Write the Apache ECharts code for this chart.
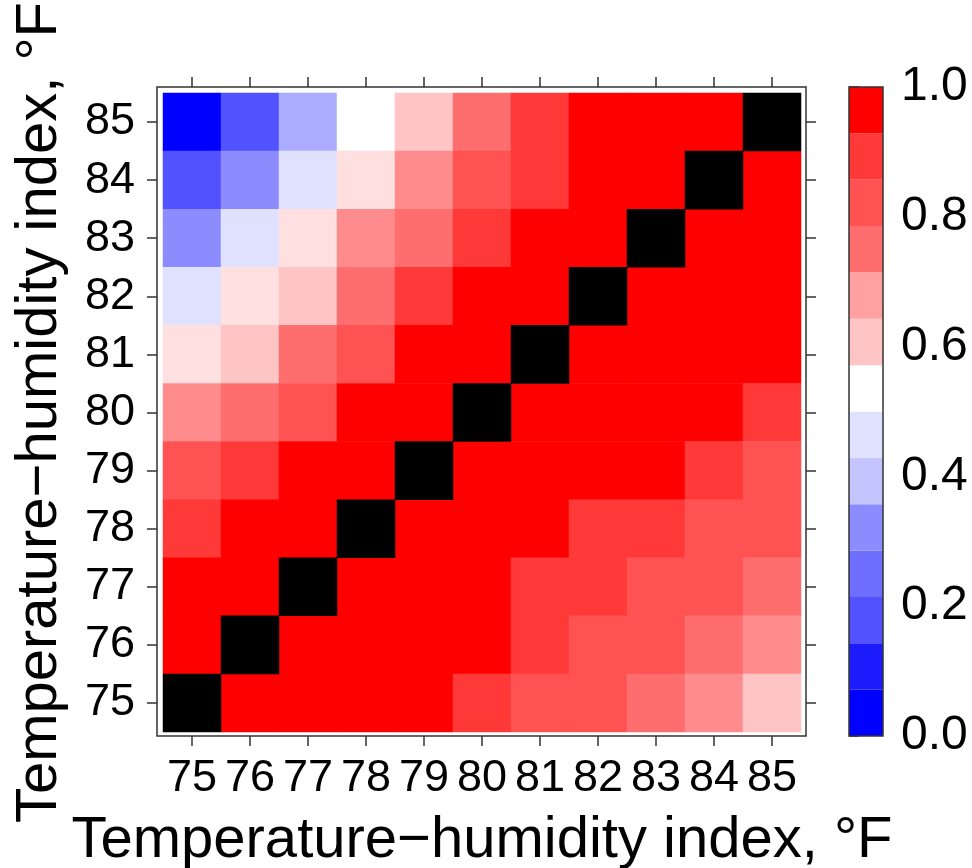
<!DOCTYPE html>
<html>
<head>
<meta charset="utf-8">
<script src="https://cdn.jsdelivr.net/npm/echarts@6/dist/echarts.min.js"></script>
<style>
  html, body { margin: 0; padding: 0; background: #fff; }
  #main { width: 972px; height: 868px; }
</style>
</head>
<body>
<div id="main"></div>
<script>
// THI categories, same on both axes
var thi = ['75', '76', '77', '78', '79', '80', '81', '82', '83', '84', '85'];

// cell values, rows from THI 85 (top) down to 75 (bottom)
// null = diagonal (drawn black)
var rows = [
    [0.00, 0.16, 0.335, 0.50, 0.615, 0.785, 0.89, 1.00, 1.00, 1.00, null],
    [0.16, 0.275, 0.44, 0.56, 0.725, 0.84, 0.89, 1.00, 1.00, null, 1.00],
    [0.275, 0.44, 0.56, 0.725, 0.785, 0.89, 1.00, 1.00, null, 1.00, 1.00],
    [0.44, 0.56, 0.615, 0.785, 0.89, 1.00, 1.00, null, 1.00, 1.00, 1.00],
    [0.56, 0.615, 0.785, 0.84, 1.00, 1.00, null, 1.00, 1.00, 1.00, 1.00],
    [0.725, 0.785, 0.84, 1.00, 1.00, null, 1.00, 1.00, 1.00, 1.00, 0.89],
    [0.84, 0.89, 1.00, 1.00, null, 1.00, 1.00, 1.00, 1.00, 0.89, 0.84],
    [0.89, 1.00, 1.00, null, 1.00, 1.00, 1.00, 0.89, 0.89, 0.84, 0.84],
    [1.00, 1.00, null, 1.00, 1.00, 1.00, 0.89, 0.89, 0.84, 0.84, 0.785],
    [1.00, null, 1.00, 1.00, 1.00, 1.00, 0.89, 0.84, 0.84, 0.785, 0.725],
    [null, 1.00, 1.00, 1.00, 1.00, 0.89, 0.84, 0.84, 0.785, 0.725, 0.615]
];

// colour bar: 14 bins from 0 to 1, colour value of each bin (bottom to top)
var barBins = 14;
var barLevels = [0.00, 0.055, 0.16, 0.215, 0.275, 0.385, 0.44, 0.50, 0.615, 0.685, 0.785, 0.84, 0.89, 1.00];

var cells = [];
var diag = [];
rows.forEach(function (row, r) {
    var yi = thi.length - 1 - r;
    row.forEach(function (v, xi) {
        if (v === null) diag.push([xi, yi, 1]);
        else cells.push([xi, yi, v]);
    });
});

var barData = barLevels.map(function (v, i) {
    return [i / barBins, (i + 1) / barBins, v];
});

var font = 'Liberation Sans, Arial, sans-serif';
var ink = '#333';
var tick = { show: true, alignWithLabel: true, length: 10, lineStyle: { color: ink, width: 1.5 } };

var myChart = echarts.init(document.getElementById('main'));

var option = {
    backgroundColor: '#fff',
    animation: false,
    textStyle: { fontFamily: font },
    grid: [
        { left: 163, top: 93, width: 638, height: 639, outerBoundsMode: 'none' },
        { left: 849, top: 87, width: 34, height: 649, show: true, z: 10, outerBoundsMode: 'none',
          backgroundColor: 'transparent', borderColor: ink, borderWidth: 1.5 },
        { left: 157, top: 87, width: 649, height: 649, show: true, z: 10, outerBoundsMode: 'none',
          backgroundColor: 'transparent', borderColor: ink, borderWidth: 1.5 }
    ],
    xAxis: [
        {
            type: 'category', gridIndex: 0, data: thi, position: 'bottom', offset: 4,
            axisLine: { show: false },
            axisTick: tick,
            axisLabel: { interval: 0, fontSize: 45, color: '#000', margin: 20, fontFamily: font },
            name: 'Temperature\u2212humidity index, \u00B0F',
            nameLocation: 'middle', nameGap: 76,
            nameTextStyle: { fontSize: 58, color: '#000', fontFamily: font }
        },
        {
            type: 'category', gridIndex: 0, data: thi, position: 'top', offset: 6,
            axisLine: { show: false },
            axisTick: tick,
            axisLabel: { show: false }
        },
        { type: 'value', gridIndex: 1, min: 0, max: 1, show: false },
        { type: 'value', gridIndex: 2, min: 0, max: 1, show: false }
    ],
    yAxis: [
        {
            type: 'category', gridIndex: 0, data: thi, position: 'left', offset: 6,
            axisLine: { show: false },
            axisTick: tick,
            axisLabel: { interval: 0, fontSize: 45, color: '#000', margin: 22, fontFamily: font },
            name: 'Temperature\u2212humidity index, \u00B0F',
            nameLocation: 'middle', nameGap: 88,
            nameTextStyle: { fontSize: 58, color: '#000', fontFamily: font }
        },
        {
            type: 'category', gridIndex: 0, data: thi, position: 'right', offset: 5,
            axisLine: { show: false },
            axisTick: tick,
            axisLabel: { show: false }
        },
        {
            type: 'value', gridIndex: 1, min: 0, max: 1, interval: 0.2, position: 'right',
            axisLine: { show: false },
            splitLine: { show: false },
            axisTick: { show: true, length: 10, lineStyle: { color: ink, width: 1.5 } },
            axisLabel: {
                fontSize: 48, color: '#000', margin: 18, fontFamily: font,
                formatter: function (v) { return v.toFixed(1); }
            }
        },
        { type: 'value', gridIndex: 2, min: 0, max: 1, show: false }
    ],
    visualMap: {
        type: 'continuous', show: false, min: 0, max: 1, dimension: 2,
        seriesIndex: [0, 2],
        inRange: { color: ['#0000FF', '#FFFFFF', '#FF0000'] }
    },
    series: [
        {
            type: 'heatmap', xAxisIndex: 0, yAxisIndex: 0, data: cells,
            emphasis: { disabled: true }
        },
        {
            type: 'heatmap', xAxisIndex: 0, yAxisIndex: 0, data: diag,
            itemStyle: { color: '#000' },
            emphasis: { disabled: true }
        },
        {
            type: 'custom', xAxisIndex: 2, yAxisIndex: 2, data: barData,
            renderItem: function (params, api) {
                var p0 = api.coord([0, api.value(1)]);
                var p1 = api.coord([1, api.value(0)]);
                return {
                    type: 'rect',
                    shape: { x: p0[0], y: p0[1], width: p1[0] - p0[0], height: p1[1] - p0[1] },
                    style: { fill: api.visual('color') }
                };
            }
        }
    ]
};
myChart.setOption(option);
</script>
</body>
</html>
